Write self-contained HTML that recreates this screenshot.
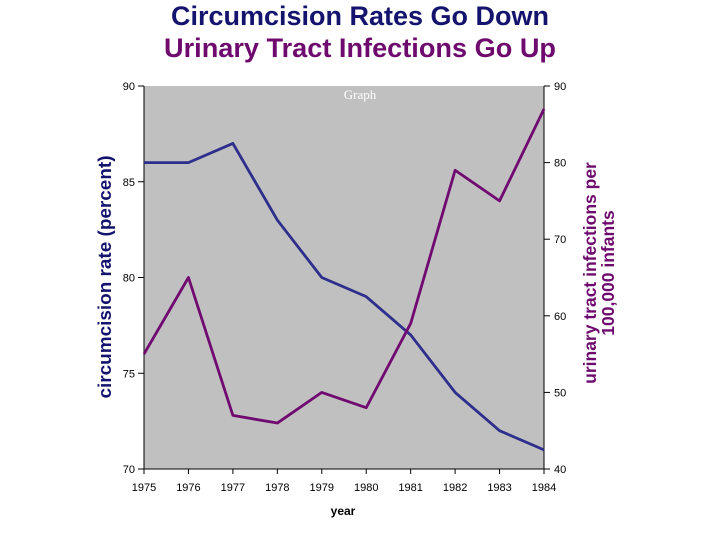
<!DOCTYPE html>
<html><head><meta charset="utf-8"><style>
body{margin:0;background:#fff;}
svg{display:block;font-family:"Liberation Sans",Arial,sans-serif;}
</style></head><body>
<svg id="chart" width="720" height="540" viewBox="0 0 720 540">
<text x="360" y="25" text-anchor="middle" font-size="26.5" font-weight="bold" fill="#14146e" textLength="378" lengthAdjust="spacingAndGlyphs">Circumcision Rates Go Down</text>
<text x="360" y="57" text-anchor="middle" font-size="26.5" font-weight="bold" fill="#6e0a6e" textLength="392" lengthAdjust="spacingAndGlyphs">Urinary Tract Infections Go Up</text>
<rect x="144" y="86" width="400" height="383" fill="#c0c0c0"/>
<text x="360" y="99" text-anchor="middle" font-size="13" fill="#fff" font-family="Liberation Serif,serif">Graph</text>
<g id="axes"></g>
<g id="series"></g>
<text x="343" y="515" text-anchor="middle" font-size="12" font-weight="bold" fill="#000">year</text>
<text transform="translate(111,277) rotate(-90)" text-anchor="middle" font-size="18.5" font-weight="bold" fill="#14146e" textLength="243" lengthAdjust="spacingAndGlyphs">circumcision rate (percent)</text>
<text transform="translate(596,273) rotate(-90)" text-anchor="middle" font-size="17.5" font-weight="bold" fill="#6e0a6e"><tspan x="0" dy="0">urinary tract infections per</tspan><tspan x="0" dy="18">100,000 infants</tspan></text>
</svg>
<script>
const years=[1975,1976,1977,1978,1979,1980,1981,1982,1983,1984];
const circumcision=[86,86,87,83,80,79,77,74,72,71];
const uti=[55,65,47,46,50,48,59,79,75,87];
const leftTicks=[70,75,80,85,90];
const rightTicks=[40,50,60,70,80,90];
const NS="http://www.w3.org/2000/svg";
const X0=144,X1=544,Y0=469,Y1=86;
const xs=i=>X0+(X1-X0)*i/(years.length-1);
const yl=v=>Y0-(v-70)/(90-70)*(Y0-Y1);
const yr=v=>Y0-(v-40)/(90-40)*(Y0-Y1);
function mk(tag,attrs,parent,text){const e=document.createElementNS(NS,tag);for(const k in attrs)e.setAttribute(k,attrs[k]);if(text!==undefined)e.textContent=text;parent.appendChild(e);return e;}
const ax=document.getElementById('axes');
let e;
e=mk('line',{x1:X0,y1:Y1,x2:X0,y2:Y0,stroke:'#000','stroke-width':1},ax);


e=mk('line',{x1:X1,y1:Y1,x2:X1,y2:Y0,stroke:'#000','stroke-width':1},ax);


e=mk('line',{x1:X0,y1:Y0,x2:X1,y2:Y0,stroke:'#000','stroke-width':1},ax);


leftTicks.forEach(v=>{const y=yl(v);
 mk('line',{x1:X0-6,y1:y,x2:X0,y2:y,stroke:'#000'},ax);
 e=mk('text',{x:X0-9,y:y+4,'text-anchor':'end','font-size':11,fill:'#000'},ax,v);
 
 });
rightTicks.forEach(v=>{const y=yr(v);
 mk('line',{x1:X1,y1:y,x2:X1+6,y2:y,stroke:'#000'},ax);
 e=mk('text',{x:X1+10,y:y+4,'font-size':11,fill:'#000'},ax,v);
 
 });
years.forEach((yv,i)=>{const x=xs(i);
 mk('line',{x1:x,y1:Y0,x2:x,y2:Y0+5,stroke:'#000'},ax);
 e=mk('text',{x:x,y:Y0+22,'text-anchor':'middle','font-size':11,fill:'#000'},ax,yv);
 
 });
const sg=document.getElementById('series');
e=mk('polyline',{points:circumcision.map((v,i)=>xs(i)+','+yl(v)).join(' '),fill:'none',stroke:'#2e2e8c','stroke-width':2.8,'stroke-linejoin':'round'},sg);


e=mk('polyline',{points:uti.map((v,i)=>xs(i)+','+yr(v)).join(' '),fill:'none',stroke:'#700a70','stroke-width':2.8,'stroke-linejoin':'round'},sg);


</script>
</body></html>
